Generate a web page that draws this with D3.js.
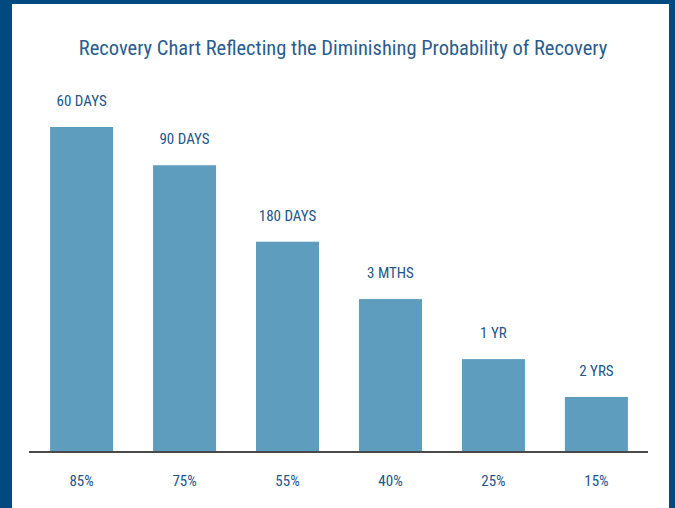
<!DOCTYPE html>
<html>
<head>
<meta charset="utf-8">
<script src="https://cdnjs.cloudflare.com/ajax/libs/d3/7.8.5/d3.min.js"></script>
<style>
  html, body { margin: 0; padding: 0; background: #ffffff; }
  svg { display: block; }
  text { font-family: "Roboto Condensed", "Liberation Sans Narrow", sans-serif; font-weight: 400; }
</style>
</head>
<body>
<svg id="chart"></svg>
<script>
// chart data
var categories = ["85%", "75%", "55%", "40%", "25%", "15%"];
var values = [85, 75, 55, 40, 24.3, 14.4];
var barLabels = ["60 DAYS", "90 DAYS", "180 DAYS", "3 MTHS", "1 YR", "2 YRS"];
var title = "Recovery Chart Reflecting the Diminishing Probability of Recovery";

var W = 675, H = 508;
var svg = d3.select("#chart").attr("width", W).attr("height", H);

// frame
svg.append("rect").attr("x", 0).attr("y", 0).attr("width", W).attr("height", H).attr("fill", "#004a82");
svg.append("rect").attr("x", 12).attr("y", 4).attr("width", 657).attr("height", H - 4).attr("fill", "#ffffff");

// title
svg.append("text")
    .attr("x", 343)
    .attr("y", 55)
    .attr("text-anchor", "middle")
    .style("font-size", "20.5px")
    .style("fill", "#2a5d8e")
    .text(title);

var axisX0 = 29, axisX1 = 648,
    baseY = 452;

var x = d3.scaleBand()
    .domain(categories)
    .range([axisX0 + 0.5, axisX1 + 0.5])
    .paddingInner(0.388)
    .paddingOuter(0.2);

var y = d3.scaleLinear()
    .domain([0, 85])
    .range([baseY, 127]);

// bars
svg.append("g")
    .selectAll("rect")
    .data(values)
    .enter()
    .append("rect")
    .attr("x", function (d, i) { return x(categories[i]); })
    .attr("y", function (d) { return y(d); })
    .attr("width", x.bandwidth())
    .attr("height", function (d) { return baseY - y(d); })
    .style("fill", "#5f9dbf");

// labels above bars
svg.append("g")
    .selectAll("text")
    .data(values)
    .enter()
    .append("text")
    .attr("x", function (d, i) { return x(categories[i]) + x.bandwidth() / 2; })
    .attr("y", function (d) { return y(d) - 21; })
    .attr("text-anchor", "middle")
    .style("font-size", "15px")
    .style("fill", "#235689")
    .text(function (d, i) { return barLabels[i]; });

// x axis
var axis = svg.append("g")
    .attr("transform", "translate(0," + baseY + ")")
    .call(d3.axisBottom(x).tickSize(0).tickPadding(23));
axis.select(".domain")
    .attr("d", "M" + axisX0 + ",0H" + axisX1)
    .attr("stroke", "#4a4a4a")
    .attr("stroke-width", 2);
axis.selectAll("text")
    .style("font-size", "15px")
    .style("fill", "#235689");
</script>
</body>
</html>
